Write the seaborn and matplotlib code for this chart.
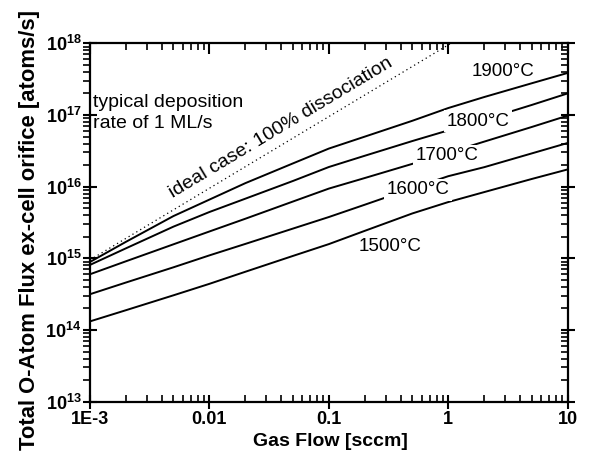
import numpy as np
import pandas as pd
import matplotlib
matplotlib.use("Agg")
import matplotlib.pyplot as plt
import seaborn as sns
from matplotlib.ticker import FixedLocator, FixedFormatter, FuncFormatter, NullFormatter, NullLocator

# ---------------- data ----------------
flow = [0.001, 0.002, 0.005, 0.01, 0.02, 0.05, 0.1, 0.2, 0.5, 1, 2, 5, 10]
flux_1500 = [1.32e14, 1.89e14, 3.05e14, 4.41e14, 6.5e14, 1.08e15, 1.58e15, 2.42e15, 4.23e15, 6.1e15, 8.4e15, 1.28e16, 1.74e16]
flux_1600 = [3.16e14, 4.6e14, 7.5e14, 1.10e15, 1.59e15, 2.60e15, 3.77e15, 5.6e15, 9.5e15, 1.40e16, 1.87e16, 2.91e16, 4.07e16]
flux_1700 = [6.0e14, 9.1e14, 1.57e15, 2.37e15, 3.57e15, 6.2e15, 9.4e15, 1.32e16, 2.08e16, 2.97e16, 4.25e16, 6.8e16, 9.8e16]
flux_1800 = [8.1e14, 1.38e15, 2.77e15, 4.43e15, 6.8e15, 1.20e16, 1.88e16, 2.70e16, 4.33e16, 6.1e16, 8.6e16, 1.38e17, 2.0e17]
flux_1900 = [8.9e14, 1.70e15, 3.89e15, 6.6e15, 1.12e16, 2.11e16, 3.4e16, 4.99e16, 8.3e16, 1.25e17, 1.78e17, 2.77e17, 3.86e17]
temps = ["1500°C", "1600°C", "1700°C", "1800°C", "1900°C"]

ideal_flow = [0.001, 10]
ideal_flux = [9.5e14, 9.5e18]

x_ticks = [1e-3, 1e-2, 1e-1, 1, 10]
x_tick_labels = ["1E-3", "0.01", "0.1", "1", "10"]
y_ticks = [1e13, 1e14, 1e15, 1e16, 1e17, 1e18]
xlim = (1e-3, 10)
ylim = (1e13, 1e18)


def sub_decades(first_exp, last_exp):
    out = []
    for e in range(first_exp, last_exp):
        for m in range(2, 10):
            out.append(float(m) * (10.0 ** e))
    return out


# ---------------- build table ----------------
series = [flux_1500, flux_1600, flux_1700, flux_1800, flux_1900]
df = pd.DataFrame({
    "flow": np.tile(flow, len(temps)),
    "flux": np.concatenate(series),
    "T": np.repeat(temps, len(flow)),
})
df_ideal = pd.DataFrame({"flow": ideal_flow, "flux": ideal_flux})

sns.set_theme(style="ticks")
plt.rcParams["font.family"] = ["Liberation Sans", "DejaVu Sans"]
plt.rcParams["mathtext.fontset"] = "custom"
plt.rcParams["mathtext.rm"] = "Liberation Sans"
plt.rcParams["mathtext.bf"] = "Liberation Sans:bold"
for key in ["text.color", "axes.labelcolor", "xtick.color", "ytick.color", "axes.edgecolor"]:
    plt.rcParams[key] = "black"

fig = plt.figure(figsize=(5.92, 4.61), dpi=100)
rect = [90 / 592, 1 - 401.7 / 461, 477.7 / 592, 358.4 / 461]
ax = fig.add_axes(rect)

sns.lineplot(data=df, x="flow", y="flux", hue="T", palette=["black"] * 5,
             estimator=None, legend=False, linewidth=1.4, ax=ax)
sns.lineplot(data=df_ideal, x="flow", y="flux", color="black", estimator=None,
             linestyle=(0, (1, 2.6)), linewidth=0.9, ax=ax)

ax.set_xscale("log")
ax.set_yscale("log")
ax.set_xlim(*xlim)
ax.set_ylim(*ylim)

ax.xaxis.set_major_locator(FixedLocator(x_ticks))
ax.xaxis.set_major_formatter(FixedFormatter(x_tick_labels))
ax.yaxis.set_major_locator(FixedLocator(y_ticks))
ax.yaxis.set_major_formatter(FuncFormatter(lambda v, p: r"$\mathbf{10^{%d}}$" % round(np.log10(v))))
ax.set_xticks(sub_decades(-3, 1), minor=True)
ax.set_yticks(sub_decades(13, 18), minor=True)
ax.xaxis.set_minor_formatter(NullFormatter())
ax.yaxis.set_minor_formatter(NullFormatter())

for s in ax.spines.values():
    s.set_linewidth(1.6)
    s.set_color("black")

ax.tick_params(axis="x", which="major", direction="inout", length=10, width=1.5, pad=2,
               labelsize=13, colors="black", top=False)
ax.tick_params(axis="x", which="minor", direction="in", length=5, width=1.2,
               colors="black", bottom=True, top=False)
ax.tick_params(axis="y", which="major", direction="inout", length=10, width=1.5, pad=1,
               labelsize=13, colors="black", right=False)
ax.tick_params(axis="y", which="minor", direction="out", length=5, width=1.2,
               colors="black", left=True, right=False)
for lab in ax.get_xticklabels():
    lab.set_fontweight("bold")

# overlay axes for the top and right ticks (inward)
ov = fig.add_axes(rect, frameon=False)
ov.set_xscale("log"); ov.set_yscale("log")
ov.set_xlim(*xlim); ov.set_ylim(*ylim)
ov.patch.set_visible(False)
ov.xaxis.set_major_locator(FixedLocator(x_ticks))
ov.yaxis.set_major_locator(FixedLocator(y_ticks))
ov.set_xticks(sub_decades(-3, 1), minor=True)
ov.set_yticks(sub_decades(13, 18), minor=True)
ov.xaxis.set_major_formatter(NullFormatter()); ov.xaxis.set_minor_formatter(NullFormatter())
ov.yaxis.set_major_formatter(NullFormatter()); ov.yaxis.set_minor_formatter(NullFormatter())
ov.tick_params(axis="x", which="major", bottom=False, top=True, labelbottom=False,
               direction="in", length=8, width=1.5, colors="black")
ov.tick_params(axis="x", which="minor", bottom=False, top=True, direction="in",
               length=5, width=1.2, colors="black")
ov.tick_params(axis="y", which="major", left=False, right=True, labelleft=False,
               direction="inout", length=10, width=1.5, colors="black")
ov.tick_params(axis="y", which="minor", left=False, right=True, direction="in",
               length=5, width=1.2, colors="black")

ax.set_xlabel("")
ax.set_ylabel("")
fig.text(330 / 592, 1 - 441 / 461, "Gas Flow [sccm]", ha="center", va="center",
         fontsize=14, fontweight="bold")
fig.text(30 / 592, 1 - 230 / 461, "Total O-Atom Flux ex-cell orifice [atoms/s]",
         ha="center", va="center", rotation=90, fontsize=15.8, fontweight="bold")

# inline labels; the white boxes cut the neighbouring curves as in the reference
box = dict(boxstyle="square,pad=0.12", fc="white", ec="none")
label_pos = {"1900°C": (2.86, 4.1e17), "1800°C": (1.77, 8.2e16), "1700°C": (0.97, 2.68e16),
             "1600°C": (0.556, 9.0e15), "1500°C": (0.324, 1.44e15)}
boxed = {"1600°C", "1700°C", "1800°C"}
for t in temps:
    x, y = label_pos[t]
    ax.text(x, y, t, ha="center", va="center", fontsize=13.5,
            bbox=box if t in boxed else None, zorder=5)

ax.text(0.040, 6.5e16, "ideal case: 100% dissociation", rotation=31, rotation_mode="anchor",
        ha="center", va="center", fontsize=14, zorder=5)
ax.text(0.007, 0.858, "typical deposition\nrate of 1 ML/s", transform=ax.transAxes,
        ha="left", va="top", fontsize=14, linespacing=1.3, zorder=5)

fig.savefig("out.png", dpi=100)
